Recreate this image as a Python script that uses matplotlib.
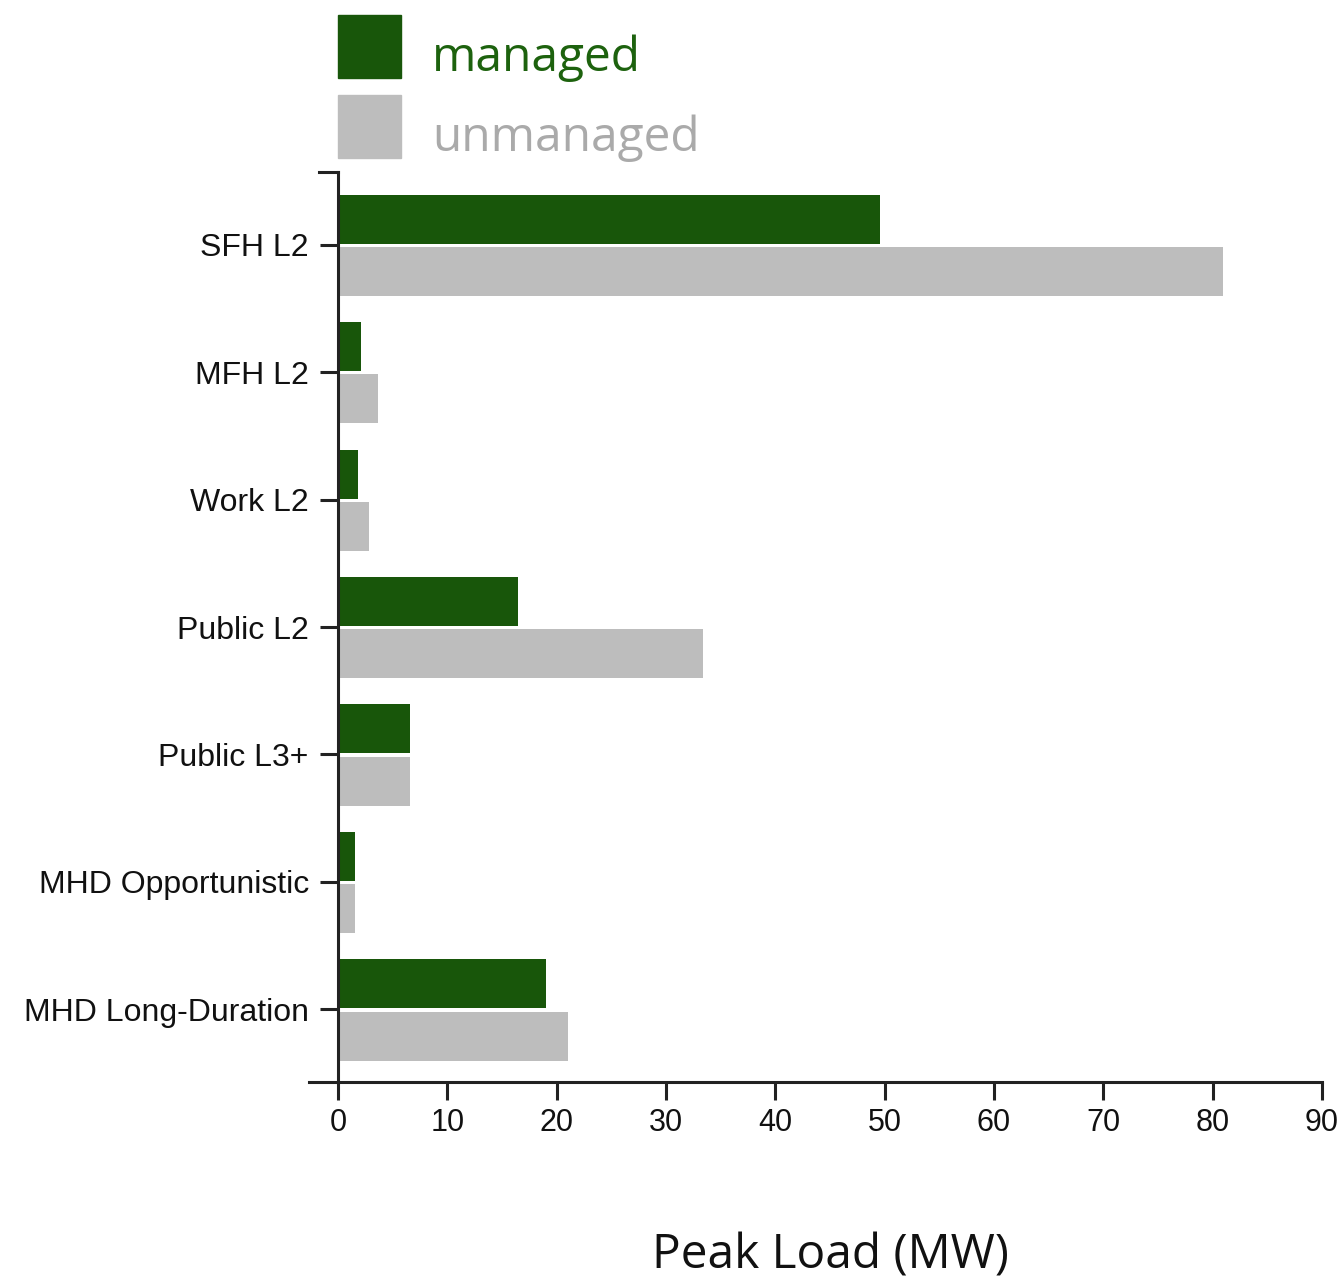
import numpy as np
import matplotlib.pyplot as plt
from matplotlib.patches import Rectangle
from matplotlib.lines import Line2D

# data
categories = ["SFH L2", "MFH L2", "Work L2", "Public L2", "Public L3+",
              "MHD Opportunistic", "MHD Long-Duration"]
managed = [49.6, 2.1, 1.8, 16.5, 6.6, 1.6, 19.0]
unmanaged = [80.9, 3.7, 2.8, 33.4, 6.6, 1.6, 21.0]
series_names = ["managed", "unmanaged"]
x_ticks = [0, 10, 20, 30, 40, 50, 60, 70, 80, 90]

GREEN = "#18560a"
GREY = "#bdbdbd"
AXIS = "#222222"

fig = plt.figure(figsize=(13.42, 12.86), dpi=100)
ax = fig.add_axes([338 / 1342, 1 - 1082 / 1286, (1322 - 338) / 1342, (1082 - 172) / 1286])

y = np.arange(len(categories))
bar_h = 0.385
ax.barh(y - 0.2, managed, height=bar_h, color=GREEN, edgecolor="none")
ax.barh(y + 0.21, unmanaged, height=bar_h, color=GREY, edgecolor="none")

ax.set_xlim(0, 90)
ax.set_ylim(6.57, -0.57)
ax.set_xticks(x_ticks)
ax.set_yticks(y)
ax.set_yticklabels(categories)

for s in ["top", "right"]:
    ax.spines[s].set_visible(False)
for s in ["left", "bottom"]:
    ax.spines[s].set_linewidth(2.2)
    ax.spines[s].set_color(AXIS)

tick_family = ["Liberation Sans", "DejaVu Sans"]
ax.tick_params(axis="both", length=13, width=2.2, color=AXIS,
               labelcolor="#111111")
for lab in ax.get_yticklabels():
    lab.set_fontfamily(tick_family)
    lab.set_fontsize(23)
for lab in ax.get_xticklabels():
    lab.set_fontfamily(tick_family)
    lab.set_fontsize(22)
ax.tick_params(axis="y", pad=8)
ax.tick_params(axis="x", pad=6)

# d3-style outer ticks at the ends of the y domain
ax.add_line(Line2D([-0.019, 0], [1, 1], transform=ax.transAxes,
                   color=AXIS, lw=2.2, clip_on=False))
ax.add_line(Line2D([-0.029, 0], [0, 0], transform=ax.transAxes,
                   color=AXIS, lw=2.2, clip_on=False))

# x label
fig.text((338 + 1322) / 2 / 1342, 1 - 1256 / 1286, "Peak Load (MW)",
         ha="center", va="center", fontsize=34.5,
         family=["Open Sans", "DejaVu Sans"], color="#111111")

# legend
sw = 63 / 1342
sh = 63 / 1286
text_cols = ["#1d620e", "#aaaaaa"]
for i, (name, col) in enumerate(zip(series_names, [GREEN, GREY])):
    top = [15, 95][i]
    fig.patches.append(Rectangle((338 / 1342, 1 - (top + 63) / 1286), sw, sh,
                                 transform=fig.transFigure, color=col))
    fig.text(432 / 1342, 1 - (top + 43) / 1286, name, ha="left", va="center",
             fontsize=34.5, family=["Open Sans", "DejaVu Sans"], color=text_cols[i])

fig.savefig("out.png", dpi=100)
